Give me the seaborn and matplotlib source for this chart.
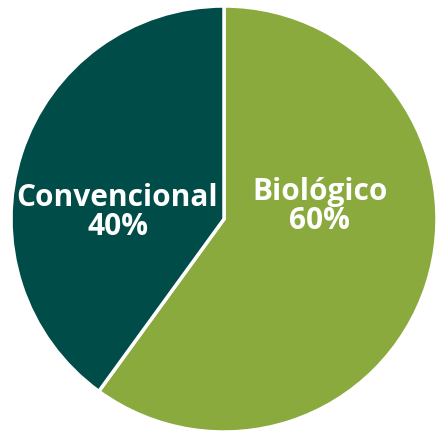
import matplotlib
matplotlib.use("Agg")
import matplotlib.pyplot as plt
import seaborn as sns

# data
categorias = ["Biológico", "Convencional"]
porcentajes = [60, 40]
colores = ["#8aaa3e", "#004c48"]

sns.set_theme(style="white")
plt.rcParams['font.family'] = ['Open Sans', 'DejaVu Sans']

fig = plt.figure(figsize=(4.36, 4.33), dpi=100)
ax = fig.add_axes([11 / 436, 1 / 433, 426 / 436, 426 / 433])

wedges, _ = ax.pie(porcentajes, colors=colores, startangle=90, counterclock=False,
                   radius=1.0, wedgeprops=dict(edgecolor="white", linewidth=2.5))

# etiquetas
posiciones = {"Biológico": (0.45, 0.06), "Convencional": (-0.50, 0.03)}
for cat, pct in zip(categorias, porcentajes):
    x, y = posiciones[cat]
    ax.text(x, y, f"{cat}\n{pct}%", ha="center", va="center", color="white",
            fontsize=21.5, fontweight="bold", linespacing=0.95)

ax.set_xlim(-1.0, 1.0)
ax.set_ylim(-1.0, 1.0)
ax.set_aspect("equal")
ax.axis("off")

plt.savefig("out.png", dpi=100)
